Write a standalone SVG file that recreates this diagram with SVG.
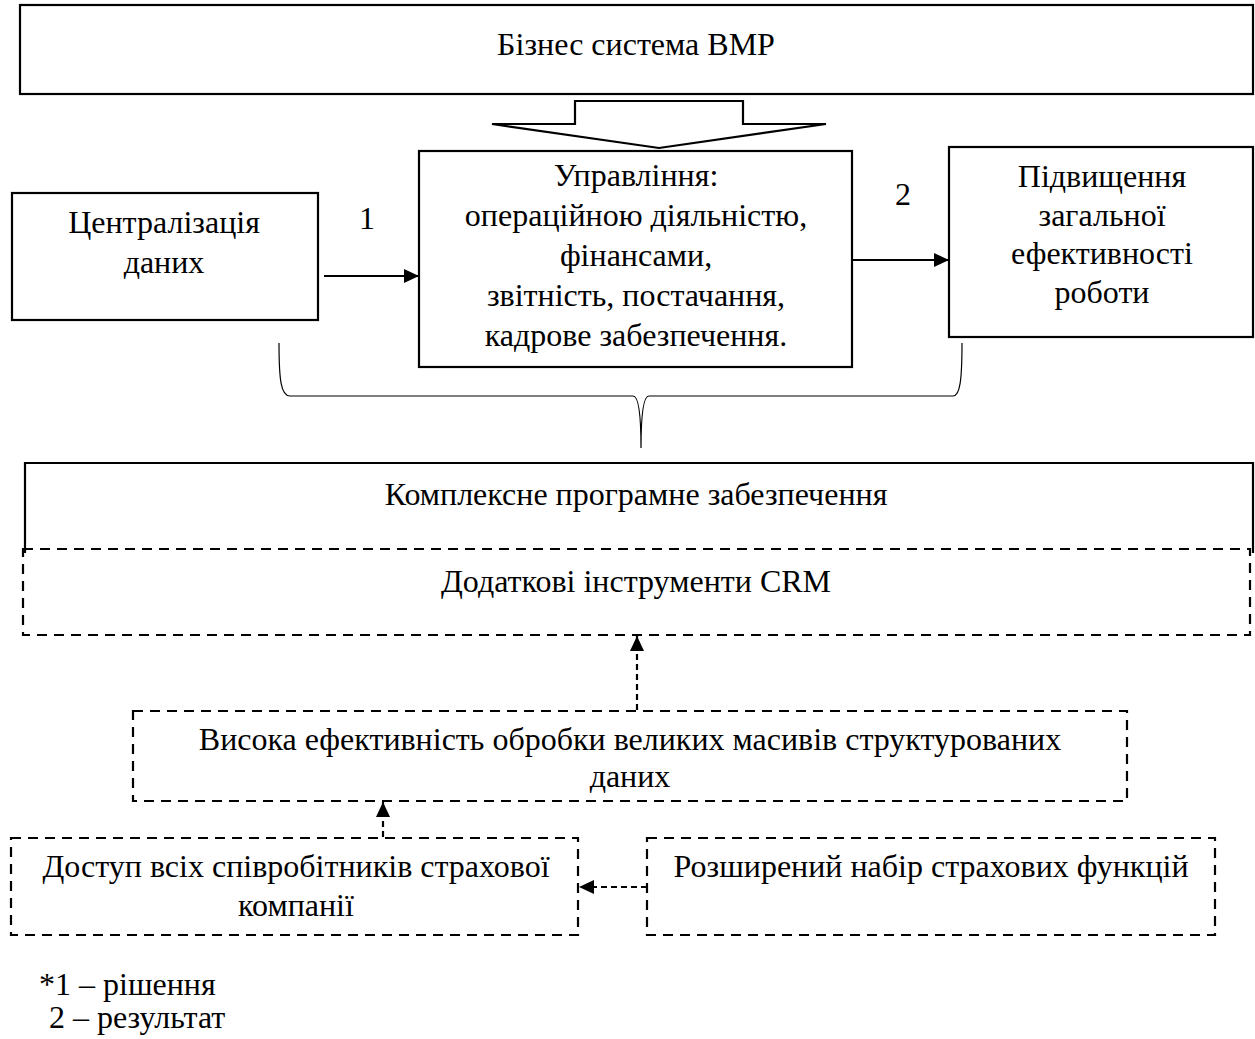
<svg xmlns="http://www.w3.org/2000/svg" width="1255" height="1039" viewBox="0 0 1255 1039">
<defs>
<style>
text{font-family:"Liberation Serif","Times New Roman",serif;font-size:32px;fill:#000;text-anchor:middle}
.box{fill:#fff;stroke:#000;stroke-width:2.2}
.dbox{fill:none;stroke:#000;stroke-width:2.2;stroke-dasharray:10 7}
.ln{fill:none;stroke:#000;stroke-width:2.2}
.dl{fill:none;stroke:#000;stroke-width:2.2;stroke-dasharray:6 4}
.brace{fill:none;stroke:#000;stroke-width:1.2}
.lg{text-anchor:start}
</style>
<marker id="ah" markerUnits="userSpaceOnUse" markerWidth="15" markerHeight="14" refX="15" refY="7" orient="auto">
<path d="M0,0 L15,7 L0,14 z" fill="#000"/>
</marker>
</defs>
<rect width="1255" height="1039" fill="#fff"/>
<g id="bms">
<rect class="box" x="20" y="5" width="1233" height="89"/>
<text x="636" y="55">Бізнес система ВМР</text>
</g>
<g id="block-arrow">
<polygon class="box" points="575,101 743,101 743,124 826,124 659,148 492,124 575,124"/>
</g>
<g id="central">
<rect class="box" x="12" y="193" width="306" height="127"/>
<text x="164" y="233">Централізація</text>
<text x="164" y="273">даних</text>
</g>
<g id="manage">
<rect class="box" x="419" y="151" width="433" height="216"/>
<text x="636" y="186">Управління:</text>
<text x="636" y="226">операційною діяльністю,</text>
<text x="636" y="266">фінансами,</text>
<text x="636" y="306">звітність, постачання,</text>
<text x="636" y="346">кадрове забезпечення.</text>
</g>
<g id="result">
<rect class="box" x="949" y="147" width="304" height="190"/>
<text x="1102" y="187">Підвищення</text>
<text x="1102" y="226">загальної</text>
<text x="1102" y="264">ефективності</text>
<text x="1102" y="303">роботи</text>
</g>
<g id="complex">
<path class="ln" d="M25,553 V463 H1253 V553"/>
<text x="636" y="505">Комплексне програмне забезпечення</text>
</g>
<g id="crm">
<rect class="dbox" x="23" y="549" width="1227" height="86"/>
<text x="636" y="592">Додаткові інструменти CRM</text>
</g>
<g id="high">
<rect class="dbox" x="133" y="711" width="994" height="90"/>
<text x="630" y="750">Висока ефективність обробки великих масивів структурованих</text>
<text x="630" y="787">даних</text>
</g>
<g id="access">
<rect class="dbox" x="11" y="838" width="567" height="97"/>
<text x="296" y="877">Доступ всіх співробітників страхової</text>
<text x="296" y="916">компанії</text>
</g>
<g id="extended">
<rect class="dbox" x="647" y="838" width="568" height="97"/>
<text x="931" y="877">Розширений набір страхових функцій</text>
</g>
<g id="connectors">
<line class="ln" x1="324" y1="276" x2="419" y2="276" marker-end="url(#ah)"/>
<line class="ln" x1="852" y1="260" x2="949" y2="260" marker-end="url(#ah)"/>
<path class="brace" d="M279,343 C279,380 281,396 290,396 H633 C638,396 641,410 641,448 C641,410 644,396 649,396 H953 C960,396 962,380 962,343"/>
<line class="dl" x1="637" y1="710" x2="637" y2="636" marker-end="url(#ah)"/>
<line class="dl" x1="383" y1="837" x2="383" y2="802" marker-end="url(#ah)"/>
<line class="dl" x1="647" y1="887" x2="579" y2="887" marker-end="url(#ah)"/>
</g>
<g id="labels">
<text x="367" y="229">1</text>
<text x="903" y="205">2</text>
<text class="lg" x="39" y="995">*1 – рішення</text>
<text class="lg" x="49" y="1028">2 – результат</text>
</g>
</svg>
